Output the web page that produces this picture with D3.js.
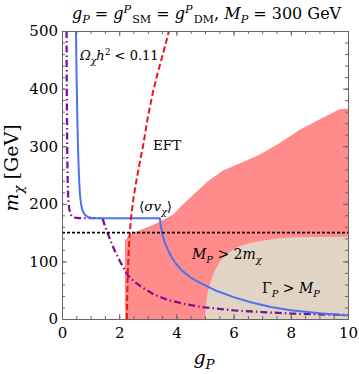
<!DOCTYPE html>
<html>
<head>
<meta charset="utf-8">
<script src="https://cdn.jsdelivr.net/npm/d3@7"></script>
<style>
  body { margin: 0; background: #fff; }
  svg text { font-family: 'DejaVu Serif', serif; }
</style>
</head>
<body>
<div id="chart"></div>
<script>
// relic density curve (solid blue): [gP, mchi]
const relicSolid = [[0.49,500],[0.51,420],[0.54,340],[0.57,280],[0.6,240],[0.63,215],[0.67,198],[0.72,188],[0.8,181],[0.9,177],[1.05,175.5],[1.3,175],
  [3.42,175],[3.46,160],[3.52,145],[3.6,132],[3.7,120],[3.85,106],[4.0,95],[4.2,84],[4.5,72],[4.9,61],[5.4,49],[6.0,38],[6.6,29],[7.3,21],[8,15],[9,10],[10,6]];
// <sigma v> curve (purple dash-dot)
const sigmaV = [[0.16,500],[0.165,420],[0.175,340],[0.185,280],[0.2,235],[0.22,207],[0.25,192],[0.29,183],[0.35,178],[0.45,176],[0.6,175],[1.42,175],
  [1.47,166],[1.55,155],[1.65,142],[1.75,129],[1.85,118],[2.0,103],[2.15,89],[2.3,76],[2.5,66],[2.8,55],[3.2,43],[3.7,33],[4.3,26],[5,20],[6,15],[7,12],[8,9.5],[9,8],[10,7]];
// EFT validity (red dashed)
const eft = [[2.27,0],[2.28,40],[2.3,80],[2.33,115],[2.37,150],[2.42,178],[2.5,210],[2.6,240],[2.72,272],[2.84,302],[3.0,350],[3.18,394],[3.35,428],[3.53,460],[3.74,500]];
// excluded region (pink) upper boundary
const pinkTop = [[2.2,0],[2.2,136],[2.3,143],[2.45,149],[2.8,156],[3.3,166],[3.9,182],[4.13,194],[4.6,216],[5.1,239],[5.63,258],
  [6.2,270],[6.9,285],[7.6,305],[8.3,328],[9.1,349],[9.7,364],[10,365],[10,0]];
// width > mass region (beige)
const widthTop = [[5.0,0],[5.03,25],[5.1,48],[5.2,66],[5.35,85],[5.52,100],[5.8,114],[6.1,124],[6.5,131],[7.0,136],[7.6,140],[8.2,142],[10,143],[10,0]];
const mHalf = 150;

const xMajor = [0, 2, 4, 6, 8, 10];
const yMajor = [0, 100, 200, 300, 400, 500];

const W = 359, H = 374;
const x = d3.scaleLinear().domain([0, 10]).range([62, 348]);
const y = d3.scaleLinear().domain([0, 500]).range([319, 31]);

const svg = d3.select('#chart').append('svg').attr('width', W).attr('height', H).style('display', 'block');

svg.append('defs').append('clipPath').attr('id', 'clip').append('rect')
  .attr('x', x(0)).attr('y', y(500)).attr('width', x(10) - x(0)).attr('height', y(0) - y(500));

const plot = svg.append('g').attr('clip-path', 'url(#clip)');

const area = d3.line().x(d => x(d[0])).y(d => y(d[1]));
plot.append('path').datum(pinkTop).attr('d', d => area(d) + 'Z').attr('fill', '#ff8b8b');
plot.append('path').datum(widthTop).attr('d', d => area(d) + 'Z').attr('fill', '#e1d4c4');

const line = d3.line().x(d => x(d[0])).y(d => y(d[1]));

plot.append('path').datum(sigmaV).attr('d', line).attr('fill', 'none')
  .attr('stroke', '#7d1190').attr('stroke-width', 2.3).attr('stroke-dasharray', '7,3,1.5,3');
plot.append('path').datum(relicSolid).attr('d', line).attr('fill', 'none')
  .attr('stroke', '#4d72ee').attr('stroke-width', 2).attr('stroke-linejoin', 'round');
plot.append('path').datum(eft).attr('d', line).attr('fill', 'none')
  .attr('stroke', '#f01414').attr('stroke-width', 2).attr('stroke-dasharray', '6,3');
plot.append('line').attr('x1', x(0)).attr('x2', x(10)).attr('y1', y(mHalf)).attr('y2', y(mHalf))
  .attr('stroke', '#000').attr('stroke-width', 1.8).attr('stroke-dasharray', '3,2');

// axes with inward ticks
const frame = '#666';
function styleAxis(g) {
  g.attr('font-family', null).attr('font-size', 15);
  g.select('.domain').attr('stroke', frame);
  g.selectAll('.tick line').attr('stroke', frame);
  g.selectAll('.tick text').attr('fill', '#000');
}
const xMinor = d3.range(0, 10.01, 0.5);
const yMinor = d3.range(0, 500.1, 20);

svg.append('g').attr('transform', `translate(0,${y(0)})`)
  .call(d3.axisBottom(x).tickValues(xMinor).tickSize(-3).tickFormat('').tickSizeOuter(0)).call(styleAxis);
svg.append('g').attr('transform', `translate(0,${y(0)})`)
  .call(d3.axisBottom(x).tickValues(xMajor).tickSize(-5).tickPadding(8).tickSizeOuter(0)).call(styleAxis);
svg.append('g').attr('transform', `translate(0,${y(500)})`)
  .call(d3.axisTop(x).tickValues(xMinor).tickSize(-3).tickFormat('').tickSizeOuter(0)).call(styleAxis);
svg.append('g').attr('transform', `translate(0,${y(500)})`)
  .call(d3.axisTop(x).tickValues(xMajor).tickSize(-5).tickFormat('').tickSizeOuter(0)).call(styleAxis);
svg.append('g').attr('transform', `translate(${x(0)},0)`)
  .call(d3.axisLeft(y).tickValues(yMinor).tickSize(-3).tickFormat('').tickSizeOuter(0)).call(styleAxis);
svg.append('g').attr('transform', `translate(${x(0)},0)`)
  .call(d3.axisLeft(y).tickValues(yMajor).tickSize(-5).tickPadding(4).tickSizeOuter(0)).call(styleAxis);
svg.append('g').attr('transform', `translate(${x(10)},0)`)
  .call(d3.axisRight(y).tickValues(yMinor).tickSize(-3).tickFormat('').tickSizeOuter(0)).call(styleAxis);
svg.append('g').attr('transform', `translate(${x(10)},0)`)
  .call(d3.axisRight(y).tickValues(yMajor).tickSize(-5).tickFormat('').tickSizeOuter(0)).call(styleAxis);

// math-ish text helper: parts = [text, kind, dx] ; kind: 'i' italic, 'r' roman, 'sub', 'subi', 'sup', 'supi'
function mathText(parent, px, py, size, parts, anchor) {
  const t = parent.append('text').attr('x', px).attr('y', py).attr('font-size', size)
    .attr('text-anchor', anchor || 'start').attr('fill', '#000');
  let shift = 0;
  parts.forEach(([s, k, dx]) => {
    const sp = t.append('tspan').text(s);
    let target = 0;
    if (k.startsWith('sub')) { target = size * 0.28; sp.attr('font-size', size * 0.7); }
    else if (k.startsWith('sup')) { target = -size * 0.38; sp.attr('font-size', size * 0.7); }
    if (k === 'i' || k.endsWith('i')) sp.attr('font-style', 'italic');
    sp.attr('dy', target - shift);
    if (dx) sp.attr('dx', dx);
    shift = target;
  });
  return t;
}

mathText(svg, 72, 19, 16, [
  ['g', 'i'], ['P', 'subi'], [' = ', 'r'], ['g', 'i'], ['P', 'supi'], ['SM', 'sub', 1],
  [' = ', 'r'], ['g', 'i'], ['P', 'supi'], ['DM', 'sub', 1], [', ', 'r'], ['M', 'i'], ['P', 'subi'],
  [' = 300 GeV', 'r']
]);

mathText(svg, 80, 60, 13, [['Ω', 'i'], ['χ', 'subi'], ['h', 'i'], ['2', 'sup'], [' < 0.11', 'r']]);
mathText(svg, 153, 150, 13.5, [['EFT', 'r']]);
mathText(svg, 139, 211, 13.5, [['⟨', 'r'], ['σv', 'i'], ['χ', 'subi'], ['⟩', 'r']]);
mathText(svg, 192, 259, 14, [['M', 'i'], ['P', 'subi'], [' > 2', 'r'], ['m', 'i'], ['χ', 'subi']]);
mathText(svg, 262, 293, 14, [['Γ', 'r'], ['P', 'subi'], [' > ', 'r'], ['M', 'i'], ['P', 'subi']]);

mathText(svg, 204, 364, 19, [['g', 'i'], ['P', 'subi']], 'middle');
mathText(svg.append('g').attr('transform', 'translate(18,168) rotate(-90)'), 0, 0, 19,
  [['m', 'i'], ['χ', 'subi'], [' [GeV]', 'r']], 'middle');
</script>
</body>
</html>
